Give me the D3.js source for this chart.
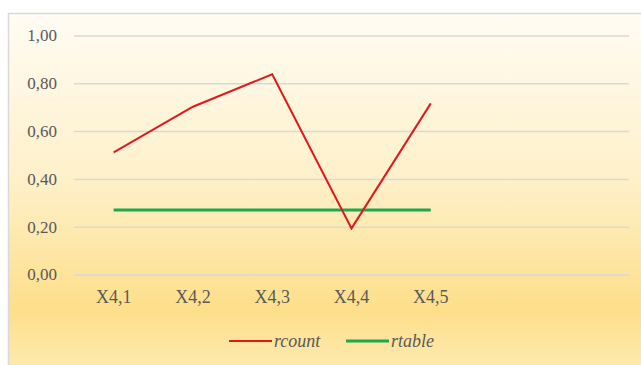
<!DOCTYPE html>
<html><head><meta charset="utf-8">
<script src="https://cdn.jsdelivr.net/npm/d3@7"></script>
<style>html,body{margin:0;padding:0;background:#fff;}</style>
</head><body>
<svg id="c" width="641" height="365" font-family="Liberation Serif"></svg>
<script>
const categories = ["X4,1","X4,2","X4,3","X4,4","X4,5"];
const emptySlots = ["_e1","_e2"];
const rcount = [0.513, 0.704, 0.84, 0.195, 0.718];
const rtable = [0.272, 0.272, 0.272, 0.272, 0.272];
const yTicks = [0, 0.2, 0.4, 0.6, 0.8, 1.0];
const seriesNames = ["rcount","rtable"];
const seriesColors = ["#E0191B","#1EA84A"];

const FONT = '"Liberation Serif", monospace';
const svg = d3.select("#c");
const defs = svg.append("defs");
const grad = defs.append("linearGradient").attr("id","bg").attr("x1",0).attr("y1",0).attr("x2",0).attr("y2",1);
[["0","#FFFCF3"],["0.45","#FEF0C9"],["0.80","#FDDF8A"],["1","#FEEDB8"]].forEach(([o,c])=>grad.append("stop").attr("offset",o).attr("stop-color",c));
svg.append("rect").attr("x",8.5).attr("y",13.5).attr("width",640).attr("height",370)
  .attr("fill","url(#bg)").attr("stroke","#D9D9D9").attr("stroke-width",1.5);

const pL=74, pR=629, pT=36, pB=275;
const x = d3.scaleBand().domain(categories.concat(emptySlots)).range([pL,pR]);
const y = d3.scaleLinear().domain([0,1]).range([pB,pT]);
const fmt = v => d3.format(".2f")(v).replace(".",",");

svg.append("g").selectAll("line").data(yTicks).join("line")
  .attr("x1",pL).attr("x2",pR).attr("y1",d=>y(d)).attr("y2",d=>y(d))
  .attr("stroke","#D9D9D9").attr("stroke-width",1.5);

// y labels drawn manually from scale
svg.append("g").selectAll("text").data(yTicks).join("text")
  .attr("x",pL-17).attr("y",d=>y(d)).attr("dy","0.32em").attr("text-anchor","end")
  .style("font-family",FONT).style("font-size","17px").attr("fill","#595959").text(fmt);

svg.append("g").selectAll("text").data(categories).join("text")
  .attr("x",d=>x(d)+x.bandwidth()/2).attr("y",pB+15).attr("dy","0.71em").attr("text-anchor","middle")
  .style("font-family",FONT).style("font-size","18px").attr("fill","#595959").text(d=>d);

const cx = d => x(d) + x.bandwidth()/2;
const line = d3.line().x((d,i)=>cx(categories[i])).y(d=>y(d));
svg.append("path").datum(rtable).attr("d",line).attr("fill","none")
  .attr("stroke",seriesColors[1]).attr("stroke-width",3);
svg.append("path").datum(rcount).attr("d",line).attr("fill","none")
  .attr("stroke",seriesColors[0]).attr("stroke-width",2);

const legendX = [229, 346];
seriesNames.forEach((n,i)=>{
  svg.append("line").attr("x1",legendX[i]).attr("x2",legendX[i]+43).attr("y1",341).attr("y2",341)
    .attr("stroke",seriesColors[i]).attr("stroke-width",i===0?2:3);
  svg.append("text").attr("x",legendX[i]+45).attr("y",347).text(n).style("font-family",FONT)
    .style("font-style","italic").style("font-size","18px").attr("fill","#595959");
});
</script>
</body></html>
